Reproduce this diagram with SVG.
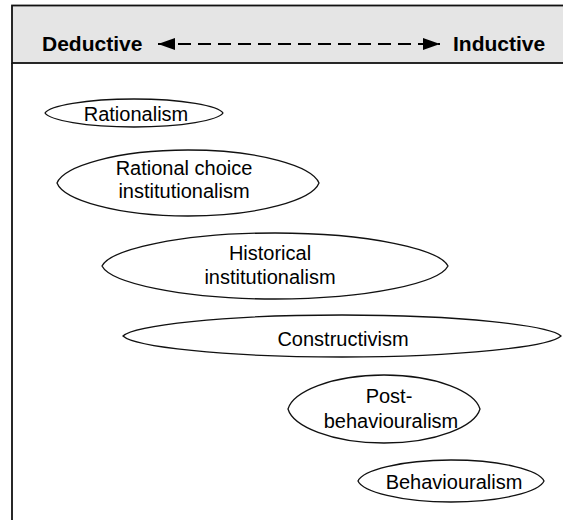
<svg xmlns="http://www.w3.org/2000/svg" width="563" height="520" viewBox="0 0 563 520">
  <style>
    .frame { fill: none; stroke: #111; stroke-width: 1.8; }
    .band { fill: #e5e5e5; stroke: #111; stroke-width: 1.8; }
    .head { font-family: "Liberation Sans", Arial, sans-serif; font-weight: bold; font-size: 21px; fill: #000; }
    .node path { fill: #fff; stroke: #111; stroke-width: 1.3; }
    .node text { font-family: "Liberation Sans", Arial, sans-serif; font-size: 20px; fill: #000; text-anchor: middle; }
    .axis { stroke: #000; stroke-width: 1.8; stroke-dasharray: 13 7; fill: none; }
  </style>
  <defs>
    <marker id="tip" viewBox="0 0 17 12" refX="17" refY="6" markerWidth="17" markerHeight="12" markerUnits="userSpaceOnUse" orient="auto-start-reverse">
      <path d="M0,0 L17,6 L0,12 Z" fill="#000"/>
    </marker>
  </defs>

  <!-- page background and frame -->
  <rect x="0" y="0" width="563" height="520" fill="#fff"/>
  <rect class="band" x="12" y="5.5" width="570" height="57.5"/>
  <line class="frame" x1="12" y1="63" x2="12" y2="525"/>

  <!-- header scale -->
  <text class="head" x="42" y="51">Deductive</text>
  <text class="head" x="453" y="51">Inductive</text>
  <g id="connectors">
    <line class="axis" x1="158" y1="44" x2="440" y2="44" marker-start="url(#tip)" marker-end="url(#tip)"/>
  </g>

  <!-- approaches -->
  <g id="rationalism" class="node">
    <path d="M45,113 C49.5,106 85,99 134,99 C183,99 218.5,106 223,113 C218.5,120 183,127 134,127 C85,127 49.5,120 45,113Z"/>
    <text x="136" y="121">Rationalism</text>
  </g>
  <g id="rational-choice" class="node">
    <path d="M57,183 C63.5,166.5 116,150 188,150 C260,150 312.5,166.5 319,183 C312.5,199.5 260,216 188,216 C116,216 63.5,199.5 57,183Z"/>
    <text x="184" y="175">Rational choice</text>
    <text x="184" y="198">institutionalism</text>
  </g>
  <g id="historical" class="node">
    <path d="M102,266 C110.5,249.5 180,233 275,233 C370,233 439.5,249.5 448,266 C439.5,282.5 370,299 275,299 C180,299 110.5,282.5 102,266Z"/>
    <text x="270" y="260">Historical</text>
    <text x="270" y="284">institutionalism</text>
  </g>
  <g id="constructivism" class="node">
    <path d="M123,336 C134,325.5 222,315 342,315 C462,315 550,325.5 561,336 C550,346.5 462,357 342,357 C222,357 134,346.5 123,336Z"/>
    <text x="343" y="346">Constructivism</text>
  </g>
  <g id="post-behaviouralism" class="node">
    <path d="M288,409 C293,392 331,375 384,375 C437,375 475,392 480,409 C475,426 437,443 384,443 C331,443 293,426 288,409Z"/>
    <text x="389" y="403">Post-</text>
    <text x="391" y="428">behaviouralism</text>
  </g>
  <g id="behaviouralism" class="node">
    <path d="M358,481 C362.5,470.5 400,460 451,460 C502,460 539.5,470.5 544,481 C539.5,491.5 502,502 451,502 C400,502 362.5,491.5 358,481Z"/>
    <text x="454" y="489">Behaviouralism</text>
  </g>
</svg>
